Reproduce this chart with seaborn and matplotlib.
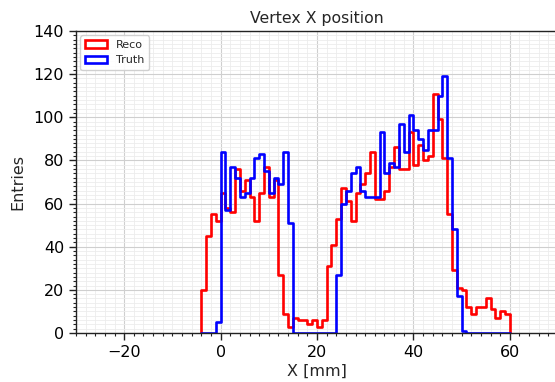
import numpy as np
import pandas as pd
import matplotlib
matplotlib.use("Agg")
import matplotlib.pyplot as plt
from matplotlib.patches import Patch
from matplotlib.ticker import MultipleLocator
import seaborn as sns

# 1 mm bins from -4 mm to 60 mm
bin_edges = list(range(-4, 61))

reco_counts = [
    20, 45, 55, 52,
    65, 58, 56, 76, 66, 71, 63, 52, 65, 77, 63, 71, 27, 9, 3,
    7, 6, 6, 4, 6, 3, 6,
    31, 41, 53, 67, 61, 52, 65, 69, 74, 84, 62, 62, 66, 77, 86, 76, 76, 93,
    78, 87, 80, 82, 111, 99, 81, 55, 29, 21, 20, 12, 9, 12, 12, 16, 11, 7, 10, 9,
]
truth_counts = [
    0, 0, 0, 5,
    84, 57, 77, 72, 63, 65, 72, 81, 83, 75, 65, 72, 69, 84, 51,
    0, 0, 0, 0, 0, 0, 0, 0, 0,
    27, 60, 66, 74, 77, 66, 63, 63, 63, 93, 74, 79, 77, 97, 84, 101,
    94, 90, 85, 94, 94, 110, 119, 81, 48, 17, 1,
    0, 0, 0, 0, 0, 0, 0, 0, 0,
]

series_names = ["Reco", "Truth"]
series_colors = ["red", "blue"]
x_major_ticks = [-20, 0, 20, 40, 60]
y_major_ticks = [0, 20, 40, 60, 80, 100, 120, 140]

sns.set_theme(style="white")
plt.rcParams["font.family"] = ["DejaVu Sans"]

fig = plt.figure(figsize=(5.55, 3.82), dpi=100)
ax = fig.add_axes([76 / 555, 49 / 382, 482 / 555, 302 / 382])

line_width = 1.9
centers = np.array(bin_edges[:-1]) + 0.5
for name, counts, color in zip(series_names, [reco_counts, truth_counts], series_colors):
    df = pd.DataFrame({"x": centers, "w": np.asarray(counts, dtype=float)})
    sns.histplot(data=df, x="x", weights="w", bins=bin_edges, element="step",
                 fill=False, color=color, linewidth=line_width, ax=ax)
    # close the outline down to the baseline at both outer edges
    ax.vlines([bin_edges[0], bin_edges[-1]], 0, [counts[0], counts[-1]],
              color=color, linewidth=line_width)

ax.set_xlim(-30, 70)
ax.set_ylim(0, 140)
ax.set_xticks(x_major_ticks)
ax.set_yticks(y_major_ticks)
ax.xaxis.set_minor_locator(MultipleLocator(2))
ax.yaxis.set_minor_locator(MultipleLocator(2))

ax.set_axisbelow(True)
ax.grid(which="major", color="#cfcfcf", linewidth=0.8)
ax.grid(which="minor", color="#ececec", linewidth=0.6)

for side in ["left", "bottom", "top", "right"]:
    ax.spines[side].set_color("#222222")
    ax.spines[side].set_linewidth(1.0)

ax.tick_params(which="major", direction="out", length=5, width=1,
               labelsize=11.5, colors="#222222", labelcolor="black",
               left=True, bottom=True)
ax.tick_params(which="minor", direction="out", length=2.5, width=0.8,
               colors="#222222", left=True, bottom=True)

ax.set_xlabel("X [mm]", fontsize=11.5, labelpad=3)
ax.set_ylabel("Entries", fontsize=11.5, labelpad=6)
ax.set_title("Vertex X position", fontsize=11.3, pad=6)

handles = [Patch(facecolor="none", edgecolor=c, linewidth=line_width) for c in series_colors]
ax.legend(handles, series_names, loc="upper left", fontsize=8, frameon=True,
          fancybox=True, framealpha=0.9, edgecolor="#cccccc",
          handlelength=2.0, borderaxespad=0.4)

fig.savefig("out.png", dpi=100)
